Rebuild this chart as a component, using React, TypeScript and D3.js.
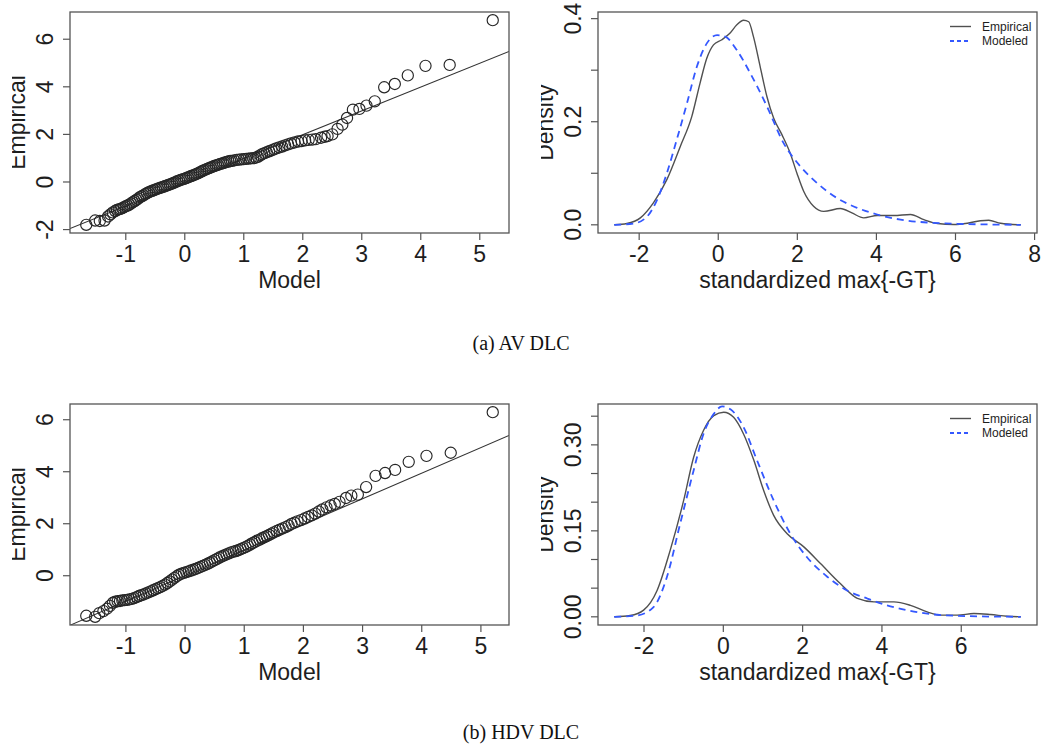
import { useEffect, useRef } from "react";
import * as d3 from "d3";

// (a) AV DLC -- QQ plot, model quantiles vs empirical quantiles
const qqModelA = [
  -1.67, -1.52, -1.44, -1.36, -1.3, -1.26, -1.22, -1.18, -1.15, -1.12, -1.09, -1.06, -1.03, -1.0,
  -0.97, -0.94, -0.91, -0.88, -0.85, -0.82, -0.79, -0.76, -0.73, -0.7, -0.67, -0.64, -0.61, -0.58,
  -0.55, -0.52, -0.49, -0.46, -0.43, -0.4, -0.37, -0.34, -0.31, -0.28, -0.25, -0.22, -0.19, -0.16,
  -0.13, -0.1, -0.07, -0.04, -0.01, 0.02, 0.05, 0.08, 0.11, 0.14, 0.17, 0.2, 0.23, 0.26, 0.29, 0.32,
  0.35, 0.38, 0.41, 0.44, 0.47, 0.5, 0.53, 0.56, 0.59, 0.62, 0.65, 0.68, 0.71, 0.74, 0.77, 0.8,
  0.84, 0.88, 0.92, 0.96, 1.0, 1.04, 1.08, 1.12, 1.16, 1.2, 1.24, 1.28, 1.31, 1.35, 1.39, 1.43,
  1.47, 1.51, 1.55, 1.6, 1.65, 1.7, 1.75, 1.8, 1.86, 1.92, 1.98, 2.04, 2.1, 2.16, 2.22, 2.31, 2.37,
  2.42, 2.5, 2.59, 2.67, 2.75, 2.85, 2.96, 3.08, 3.22, 3.38, 3.56, 3.78, 4.08, 4.49, 5.22,
];
const qqEmpiricalA = [
  -1.8, -1.62, -1.64, -1.62, -1.45, -1.36, -1.28, -1.22, -1.17, -1.15, -1.13, -1.1, -1.06, -1.02,
  -0.99, -0.95, -0.9, -0.85, -0.8, -0.75, -0.7, -0.64, -0.6, -0.56, -0.51, -0.47, -0.43, -0.4,
  -0.37, -0.34, -0.31, -0.28, -0.26, -0.23, -0.21, -0.18, -0.15, -0.12, -0.1, -0.07, -0.04, -0.01,
  0.03, 0.06, 0.09, 0.11, 0.13, 0.16, 0.19, 0.22, 0.25, 0.28, 0.31, 0.34, 0.37, 0.41, 0.45, 0.49,
  0.52, 0.55, 0.58, 0.61, 0.64, 0.67, 0.7, 0.72, 0.75, 0.77, 0.79, 0.82, 0.84, 0.86, 0.88, 0.89,
  0.91, 0.93, 0.94, 0.95, 0.96, 0.97, 0.98, 0.99, 1.0, 1.02, 1.06, 1.12, 1.17, 1.21, 1.25, 1.29,
  1.33, 1.37, 1.41, 1.45, 1.49, 1.54, 1.58, 1.62, 1.66, 1.7, 1.72, 1.75, 1.77, 1.78, 1.8, 1.86, 1.9,
  1.93, 2.0, 2.23, 2.41, 2.69, 3.04, 3.07, 3.21, 3.39, 3.98, 4.12, 4.48, 4.88, 4.92, 6.8,
];
const qqLineA = [1.0, -0.01]; // slope, intercept

// (b) HDV DLC -- QQ plot
const qqModelB = [
  -1.67, -1.52, -1.45, -1.38, -1.32, -1.27, -1.22, -1.18, -1.14, -1.1, -1.06, -1.02, -0.98, -0.94,
  -0.9, -0.86, -0.82, -0.78, -0.74, -0.7, -0.66, -0.62, -0.58, -0.54, -0.5, -0.46, -0.42, -0.38,
  -0.34, -0.3, -0.26, -0.22, -0.18, -0.14, -0.1, -0.06, -0.02, 0.02, 0.06, 0.1, 0.14, 0.18, 0.22,
  0.26, 0.3, 0.34, 0.38, 0.42, 0.46, 0.5, 0.54, 0.58, 0.62, 0.66, 0.7, 0.74, 0.78, 0.82, 0.86, 0.9,
  0.94, 0.98, 1.02, 1.06, 1.1, 1.14, 1.18, 1.22, 1.26, 1.3, 1.34, 1.38, 1.42, 1.46, 1.5, 1.55, 1.6,
  1.65, 1.7, 1.75, 1.8, 1.85, 1.9, 1.96, 2.02, 2.08, 2.14, 2.2, 2.26, 2.32, 2.39, 2.46, 2.53, 2.61,
  2.72, 2.81, 2.92, 3.06, 3.22, 3.38, 3.55, 3.78, 4.08, 4.49, 5.2,
];
const qqEmpiricalB = [
  -1.54, -1.58, -1.44, -1.36, -1.27, -1.16, -1.04, -1.0, -0.98, -0.97, -0.95, -0.94, -0.93, -0.91,
  -0.89, -0.86, -0.82, -0.78, -0.75, -0.72, -0.68, -0.64, -0.6, -0.56, -0.52, -0.48, -0.44, -0.39,
  -0.34, -0.28, -0.22, -0.15, -0.08, -0.02, 0.04, 0.08, 0.11, 0.14, 0.17, 0.2, 0.23, 0.26, 0.3,
  0.34, 0.38, 0.42, 0.46, 0.5, 0.55, 0.6, 0.65, 0.7, 0.74, 0.78, 0.82, 0.86, 0.9, 0.93, 0.95, 0.98,
  1.02, 1.06, 1.1, 1.15, 1.2, 1.25, 1.3, 1.35, 1.39, 1.44, 1.48, 1.52, 1.57, 1.62, 1.67, 1.72, 1.77,
  1.82, 1.87, 1.93, 1.99, 2.04, 2.09, 2.14, 2.2, 2.26, 2.32, 2.39, 2.47, 2.55, 2.63, 2.7, 2.76, 2.84,
  2.99, 3.08, 3.12, 3.41, 3.84, 3.95, 4.07, 4.38, 4.61, 4.73, 6.29,
];
const qqLineB = [0.984, 0.01];

// (a) density curves
const empXA = [
  -2.63, -2.31, -1.97, -1.64, -1.3, -0.96, -0.67, -0.46, -0.29, -0.12, 0.09, 0.3, 0.47, 0.64, 0.77,
  0.89, 1.06, 1.23, 1.4, 1.61, 1.82, 1.99, 2.16, 2.41, 2.67, 3.09, 3.38, 3.68, 4.02, 4.44, 4.86,
  5.2, 5.54, 5.96, 6.3, 6.63, 6.84, 7.14, 7.65,
];
const empYA = [
  0.0, 0.0025, 0.0135, 0.0426, 0.0877, 0.152, 0.21, 0.275, 0.323, 0.349, 0.359, 0.372, 0.388, 0.397,
  0.394, 0.365, 0.307, 0.249, 0.207, 0.175, 0.139, 0.1, 0.065, 0.036, 0.026, 0.0316, 0.023, 0.0135,
  0.018, 0.018, 0.02, 0.01, 0.0025, 0.0006, 0.003, 0.008, 0.009, 0.003, 0.0,
];
const modXA = [
  -2.63, -2.14, -1.8, -1.55, -1.3, -1.05, -0.79, -0.54, -0.29, -0.03, 0.18, 0.47, 0.81, 1.23, 1.65,
  2.08, 2.5, 3.0, 3.51, 4.02, 4.61, 5.28, 6.04, 6.89, 7.65,
];
const modYA = [
  0.0, 0.0025, 0.016, 0.048, 0.1, 0.165, 0.236, 0.307, 0.352, 0.368, 0.365, 0.339, 0.294, 0.23,
  0.159, 0.113, 0.081, 0.052, 0.033, 0.02, 0.01, 0.0045, 0.002, 0.0006, 0.0,
];

// (b) density curves
const empXB = [
  -2.75, -2.35, -2.01, -1.67, -1.34, -1.0, -0.75, -0.5, -0.24, 0.01, 0.26, 0.51, 0.77, 1.02, 1.27,
  1.61, 2.03, 2.45, 2.95, 3.38, 3.8, 4.3, 4.72, 5.14, 5.48, 5.9, 6.32, 6.74, 7.16, 7.5,
];
const empYB = [
  0.0, 0.0023, 0.0117, 0.046, 0.116, 0.203, 0.278, 0.325, 0.351, 0.357, 0.348, 0.319, 0.273, 0.22,
  0.177, 0.145, 0.122, 0.093, 0.058, 0.032, 0.026, 0.026, 0.02, 0.0087, 0.0029, 0.0029, 0.0058,
  0.004, 0.001, 0.0,
];
const modXB = [
  -2.75, -2.18, -1.76, -1.42, -1.09, -0.75, -0.5, -0.24, -0.03, 0.18, 0.51, 0.85, 1.27, 1.69, 2.11,
  2.62, 3.12, 3.63, 4.13, 4.64, 5.31, 6.15, 7.5,
];
const modYB = [
  0.0, 0.0023, 0.017, 0.07, 0.162, 0.255, 0.319, 0.354, 0.367, 0.362, 0.331, 0.273, 0.203, 0.145,
  0.104, 0.07, 0.046, 0.032, 0.02, 0.0116, 0.0041, 0.0012, 0.0,
];

// ticks and labels
const qqXTicks = [-1, 0, 1, 2, 3, 4, 5];
const qqYTicksA = [-2, 0, 2, 4, 6];
const qqYTicksB = [0, 2, 4, 6];
const densXTicksA = [-2, 0, 2, 4, 6, 8];
const densXTicksB = [-2, 0, 2, 4, 6];
const densYTicksA = [0, 0.1, 0.2, 0.3, 0.4];
const densYLabelsA = ["0.0", "", "0.2", "", "0.4"];
const densYTicksB = [0, 0.05, 0.1, 0.15, 0.2, 0.25, 0.3, 0.35];
const densYLabelsB = ["0.00", "", "", "0.15", "", "", "0.30", ""];
const legendLabels = ["Empirical", "Modeled"];
const captions = ["(a) AV DLC", "(b) HDV DLC"];

const FONT = "'Liberation Sans', Arial, Helvetica, sans-serif";
const INK = "#1e1e1e";

// R style 4% axis expansion
const pad = (lo, hi) => [lo - (hi - lo) * 0.04, hi + (hi - lo) * 0.04];

const App = () => {
  const svgRef = useRef();

  useEffect(() => {
    const svg = d3.select(svgRef.current);
    svg.selectAll("*").remove();

    const defs = svg.append("defs");
    defs.append("clipPath").attr("id", "clip-left")
      .append("rect").attr("x", 12).attr("y", 0).attr("width", 527).attr("height", 748);
    defs.append("clipPath").attr("id", "clip-right")
      .append("rect").attr("x", 541).attr("y", 0).attr("width", 501).attr("height", 748);

    // common frame: box, ticks, tick labels, axis titles
    const frame = (g, x, y, xTicks, xLabels, yTicks, yLabels, xTitle, yTitle) => {
      const [x0, x1] = x.range();
      const [y1, y0] = y.range();
      g.append("rect")
        .attr("x", x0).attr("y", y0).attr("width", x1 - x0).attr("height", y1 - y0)
        .attr("fill", "none").attr("stroke", "#555").attr("stroke-width", 1.3);

      xTicks.forEach((t, i) => {
        g.append("line")
          .attr("x1", x(t)).attr("x2", x(t)).attr("y1", y1).attr("y2", y1 + 7)
          .attr("stroke", "#555").attr("stroke-width", 1.2);
        g.append("text")
          .attr("x", x(t)).attr("y", y1 + 29)
          .attr("text-anchor", "middle").attr("font-size", 23)
          .attr("font-family", FONT).attr("fill", INK)
          .text(xLabels[i]);
      });
      yTicks.forEach((t, i) => {
        g.append("line")
          .attr("x1", x0 - 7).attr("x2", x0).attr("y1", y(t)).attr("y2", y(t))
          .attr("stroke", "#555").attr("stroke-width", 1.2);
        g.append("text")
          .attr("transform", `translate(${x0 - 17},${y(t)}) rotate(-90)`)
          .attr("text-anchor", "middle").attr("font-size", 23)
          .attr("font-family", FONT).attr("fill", INK)
          .text(yLabels[i]);
      });

      g.append("text")
        .attr("x", (x0 + x1) / 2).attr("y", y1 + 55)
        .attr("text-anchor", "middle").attr("font-size", 23)
        .attr("font-family", FONT).attr("fill", INK)
        .text(xTitle);
      g.append("text")
        .attr("transform", `translate(${x0 - 45},${(y0 + y1) / 2}) rotate(-90)`)
        .attr("text-anchor", "middle").attr("font-size", 23)
        .attr("font-family", FONT).attr("fill", INK)
        .text(yTitle);
    };

    const drawQQ = (top, xs, ys, line, yTicks, id) => {
      const g = svg.append("g").attr("clip-path", "url(#clip-left)");
      const x = d3.scaleLinear().domain(pad(d3.min(xs), d3.max(xs))).range([70, 509]);
      const y = d3.scaleLinear().domain(pad(d3.min(ys), d3.max(ys))).range([top + 221, top]);

      g.append("clipPath").attr("id", id)
        .append("rect").attr("x", 70).attr("y", top).attr("width", 439).attr("height", 221);

      // reference line
      const [d0, d1] = x.domain();
      g.append("line")
        .attr("clip-path", `url(#${id})`)
        .attr("x1", x(d0)).attr("y1", y(line[0] * d0 + line[1]))
        .attr("x2", x(d1)).attr("y2", y(line[0] * d1 + line[1]))
        .attr("stroke", "#333").attr("stroke-width", 1.1);

      g.selectAll("circle.pt")
        .data(xs.map((v, i) => [v, ys[i]]))
        .enter()
        .append("circle")
        .attr("class", "pt")
        .attr("cx", (d) => x(d[0]))
        .attr("cy", (d) => y(d[1]))
        .attr("r", 5.6)
        .attr("fill", "none")
        .attr("stroke", "#262626")
        .attr("stroke-width", 1.15);

      frame(g, x, y, qqXTicks, qqXTicks.map(String), yTicks, yTicks.map(String), "Model", "Empirical");
    };

    const drawDensity = (top, ex, ey, mx, my, xTicks, yTicks, yLabels) => {
      const g = svg.append("g").attr("clip-path", "url(#clip-right)");
      const x = d3.scaleLinear().domain(pad(d3.min(ex), d3.max(ex))).range([598, 1037]);
      const y = d3.scaleLinear().domain(pad(0, d3.max(ey))).range([top + 221, top]);

      const line = d3.line().curve(d3.curveMonotoneX).x((d) => x(d[0])).y((d) => y(d[1]));

      g.append("path")
        .datum(ex.map((v, i) => [v, ey[i]]))
        .attr("fill", "none").attr("stroke", "#505050").attr("stroke-width", 1.4)
        .attr("d", line);
      g.append("path")
        .datum(mx.map((v, i) => [v, my[i]]))
        .attr("fill", "none").attr("stroke", "#3458ff").attr("stroke-width", 1.8)
        .attr("stroke-dasharray", "7,5")
        .attr("d", line);

      frame(g, x, y, xTicks, xTicks.map(String), yTicks, yLabels,
        "standardized max{-GT}", "Density");

      // legend
      legendLabels.forEach((label, i) => {
        const ly = top + 14.5 + i * 14.5;
        g.append("line")
          .attr("x1", 950).attr("x2", 971).attr("y1", ly).attr("y2", ly)
          .attr("stroke", i === 0 ? "#505050" : "#3458ff")
          .attr("stroke-width", i === 0 ? 1.4 : 1.8)
          .attr("stroke-dasharray", i === 0 ? null : "4,3");
        g.append("text")
          .attr("x", 982).attr("y", ly).attr("dy", "0.35em")
          .attr("font-size", 12).attr("font-family", FONT).attr("fill", INK)
          .text(label);
      });
    };

    drawQQ(12, qqModelA, qqEmpiricalA, qqLineA, qqYTicksA, "plot-a");
    drawDensity(12, empXA, empYA, modXA, modYA, densXTicksA, densYTicksA, densYLabelsA);
    drawQQ(404, qqModelB, qqEmpiricalB, qqLineB, qqYTicksB, "plot-b");
    drawDensity(404, empXB, empYB, modXB, modYB, densXTicksB, densYTicksB, densYLabelsB);

    // captions
    captions.forEach((c, i) => {
      svg.append("text")
        .attr("x", 521).attr("y", 350 + i * 389)
        .attr("text-anchor", "middle").attr("font-size", 20)
        .attr("font-family", "'Liberation Serif', 'Times New Roman', serif")
        .attr("fill", "#111")
        .text(c);
    });
  }, []);

  return (
    <svg
      ref={svgRef}
      width={1042}
      height={748}
      style={{ position: "absolute", left: 0, top: 0, background: "#fff" }}
    ></svg>
  );
};

export default App;
